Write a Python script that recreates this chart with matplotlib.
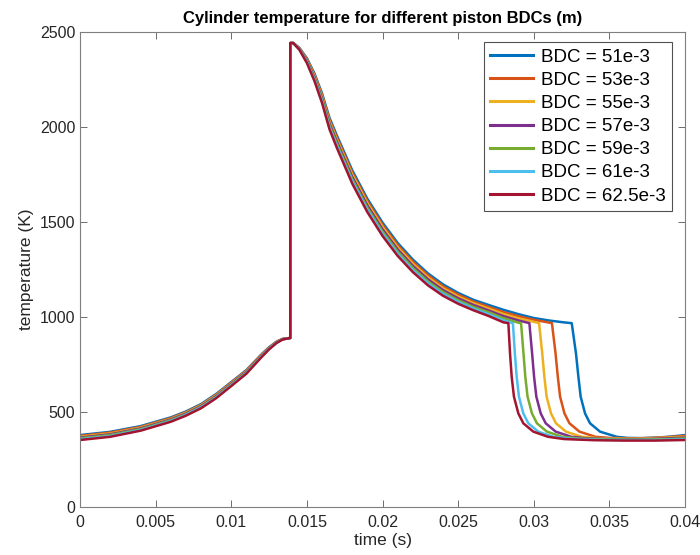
import matplotlib
matplotlib.use('Agg')
import matplotlib.pyplot as plt

plt.rcParams['font.family'] = ['Liberation Sans', 'DejaVu Sans']

labels = ['BDC = 51e-3', 'BDC = 53e-3', 'BDC = 55e-3', 'BDC = 57e-3',
          'BDC = 59e-3', 'BDC = 61e-3', 'BDC = 62.5e-3']
colors = ['#0072BD', '#D95319', '#EDB120', '#7E2F8E', '#77AC30', '#4DBEEE', '#A2142F']

# compression stroke (shared time grid)
t_comp = [0, 0.002, 0.004, 0.006, 0.007, 0.008, 0.009, 0.010, 0.011, 0.012,
          0.0125, 0.013, 0.0134, 0.0139]
T_comp = [
    [377, 394, 424, 470, 501, 540, 593, 656, 719, 802, 839, 869, 883, 888],
    [373, 390, 420, 466, 497, 536, 589, 653, 716, 800, 837, 868, 883, 888],
    [368, 385, 416, 462, 494, 533, 586, 649, 713, 797, 835, 867, 882, 888],
    [364, 381, 412, 459, 490, 529, 582, 646, 710, 795, 834, 866, 882, 888],
    [360, 377, 408, 455, 486, 525, 578, 642, 706, 792, 832, 864, 881, 888],
    [355, 372, 404, 451, 483, 522, 575, 639, 703, 790, 830, 863, 881, 888],
    [351, 368, 400, 447, 479, 518, 571, 635, 700, 787, 828, 862, 880, 888],
]

# expansion after combustion (shared time grid)
t_exp = [0.0139, 0.0141, 0.0145, 0.015, 0.0155, 0.016, 0.0165, 0.017, 0.018, 0.019,
         0.020, 0.021, 0.022, 0.023, 0.024, 0.025, 0.026]
T_exp = [
    [2440, 2440, 2415, 2360, 2280, 2175, 2045, 1950, 1770, 1620, 1495, 1388, 1301, 1228, 1170, 1125, 1089],
    [2440, 2440, 2413, 2356, 2273, 2167, 2035, 1939, 1758, 1608, 1483, 1377, 1290, 1218, 1160, 1116, 1080],
    [2440, 2440, 2412, 2352, 2267, 2158, 2025, 1928, 1747, 1597, 1472, 1365, 1279, 1207, 1150, 1106, 1071],
    [2440, 2440, 2410, 2348, 2260, 2150, 2015, 1918, 1735, 1585, 1460, 1354, 1268, 1197, 1140, 1097, 1062],
    [2440, 2440, 2408, 2343, 2253, 2142, 2005, 1907, 1723, 1573, 1448, 1343, 1257, 1186, 1130, 1087, 1052],
    [2440, 2440, 2407, 2339, 2247, 2133, 1995, 1896, 1712, 1562, 1437, 1331, 1246, 1176, 1120, 1078, 1043],
    [2440, 2440, 2405, 2335, 2240, 2125, 1985, 1885, 1700, 1550, 1425, 1320, 1235, 1165, 1110, 1068, 1034],
]

# end of expansion, up to the exhaust corner
t_late = [
    [0.027, 0.028, 0.029, 0.030, 0.031, 0.032],
    [0.027, 0.028, 0.029, 0.030, 0.031],
    [0.027, 0.028, 0.029, 0.030],
    [0.027, 0.028, 0.029],
    [0.027, 0.028, 0.029],
    [0.027, 0.028],
    [0.027, 0.028],
]
T_late = [
    [1062, 1036, 1013, 993, 980, 970],
    [1052, 1024, 1002, 984, 969],
    [1043, 1014, 991, 973],
    [1033, 1003, 980],
    [1024, 992, 968],
    [1014, 980],
    [1004, 970],
]

# exhaust blowdown
T_drop = [966, 807, 684, 579, 491, 439, 395, 368]
t_drop = [
    [0.03251, 0.03279, 0.03295, 0.03310, 0.03339, 0.03372, 0.03438, 0.03548],
    [0.03120, 0.03144, 0.03159, 0.03174, 0.03203, 0.03236, 0.03302, 0.03408],
    [0.03035, 0.03056, 0.03070, 0.03085, 0.03114, 0.03147, 0.03213, 0.03317],
    [0.02971, 0.02989, 0.03002, 0.03017, 0.03046, 0.03079, 0.03145, 0.03248],
    [0.02916, 0.02932, 0.02944, 0.02959, 0.02988, 0.03021, 0.03087, 0.03188],
    [0.02862, 0.02875, 0.02887, 0.02902, 0.02931, 0.02964, 0.03030, 0.03129],
    [0.02832, 0.02843, 0.02854, 0.02869, 0.02898, 0.02931, 0.02997, 0.03094],
]

# intake tail
t_tail = [
    [0.0362, 0.0372, 0.0382, 0.0392, 0.0400],
    [0.0350, 0.0365, 0.0378, 0.0390, 0.0400],
    [0.0342, 0.0360, 0.0375, 0.0390, 0.0400],
    [0.0335, 0.0355, 0.0375, 0.0390, 0.0400],
    [0.0330, 0.0350, 0.0370, 0.0390, 0.0400],
    [0.0325, 0.0345, 0.0365, 0.0385, 0.0400],
    [0.0320, 0.0340, 0.0360, 0.0380, 0.0400],
]
T_tail = [
    [362, 361, 364, 370, 377],
    [362, 359, 362, 367, 373],
    [361, 357, 359, 364, 368],
    [360, 355, 356, 360, 364],
    [359, 354, 353, 356, 360],
    [358, 352, 351, 352, 355],
    [356, 350, 348, 348, 351],
]

fig = plt.figure(figsize=(7, 5.55), dpi=100)
ax = fig.add_axes([0.1143, 0.087, 0.8643, 0.856])

for i in range(len(labels)):
    t = t_comp + t_exp + t_late[i] + t_drop[i] + t_tail[i]
    T = T_comp[i] + T_exp[i] + T_late[i] + T_drop + T_tail[i]
    ax.plot(t, T, color=colors[i], lw=1.8, label=labels[i])

ax.set_xlim(0, 0.04)
ax.set_ylim(0, 2500)
xt = [0, 0.005, 0.01, 0.015, 0.02, 0.025, 0.03, 0.035, 0.04]
ax.set_xticks(xt)
ax.set_xticklabels(['%g' % v for v in xt])
ax.set_yticks(range(0, 2501, 500))

gray = '#262626'
for s in ax.spines.values():
    s.set_color('#7f7f7f')
    s.set_linewidth(0.8)
ax.tick_params(direction='in', top=True, right=True, length=5, width=0.6,
               color='#555555', labelcolor=gray, labelsize=11.5)
ax.tick_params(axis='x', pad=6)

ax.set_title('Cylinder temperature for different piston BDCs (m)',
             fontsize=12, fontweight='bold', color='black', pad=6)
ax.set_xlabel('time (s)', fontsize=12.5, color=gray, labelpad=2)
ax.set_ylabel('temperature (K)', fontsize=12.5, color=gray, labelpad=4)

leg = ax.legend(loc='upper right', fontsize=13.5, frameon=True, fancybox=False,
                edgecolor='#262626', handlelength=2.3, handletextpad=0.4,
                labelspacing=0.32, borderpad=0.35, borderaxespad=0,
                bbox_to_anchor=(0.9785, 0.978))
leg.get_frame().set_linewidth(0.8)
for line in leg.get_lines():
    line.set_linewidth(2.2)

fig.savefig('out.png', dpi=100)
